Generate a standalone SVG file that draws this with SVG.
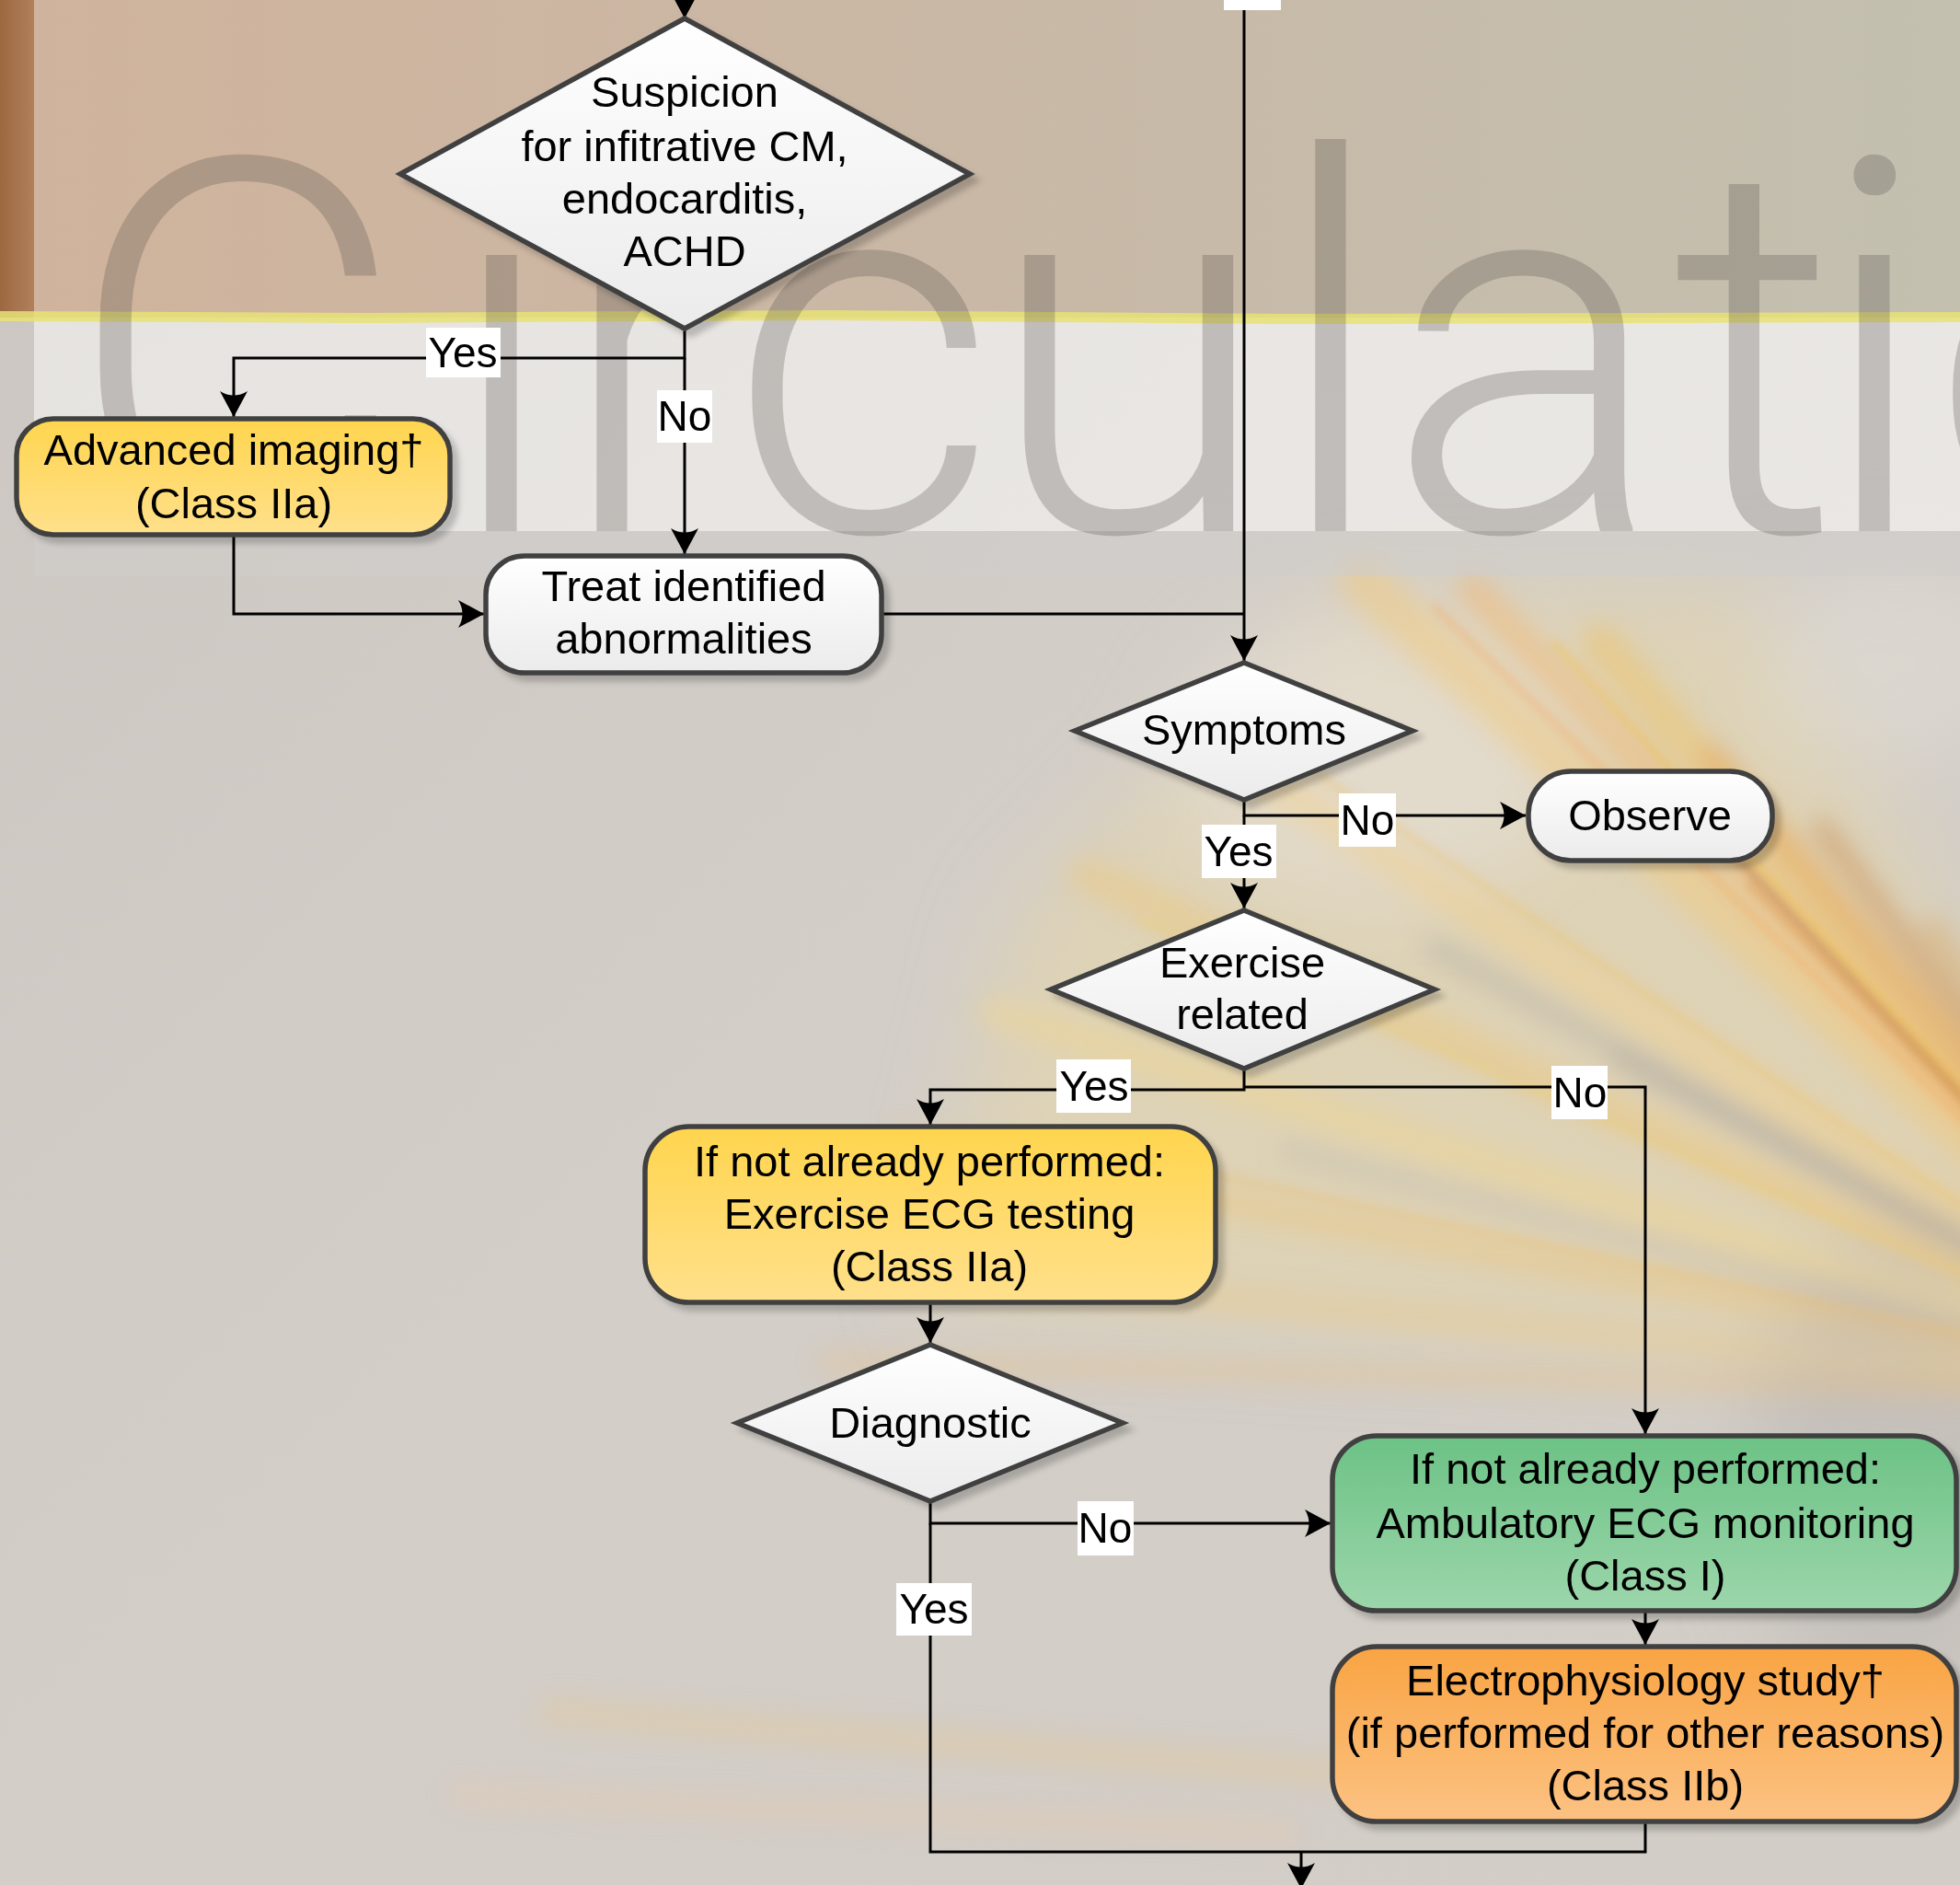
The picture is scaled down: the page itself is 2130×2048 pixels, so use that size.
<svg xmlns="http://www.w3.org/2000/svg" width="2130" height="2048" viewBox="0 0 2130 2048">
<defs>
<style>
.nt{font-family:"Liberation Sans",Arial,sans-serif;font-size:47px;text-anchor:middle;fill:#000}
.lb{font-family:"Liberation Sans",Arial,sans-serif;font-size:46px;text-anchor:middle;fill:#000}
.lbg{fill:#fff}
.node{stroke:#404040;stroke-width:5.5;filter:url(#sh)}
.w{fill:url(#gw)}
.y{fill:url(#gy)}
.g{fill:url(#gg)}
.o{fill:url(#go)}
.c{fill:none;stroke:#000;stroke-width:3}
.ca{fill:none;stroke:#000;stroke-width:3;marker-end:url(#ah)}
</style>
<marker id="ah" markerUnits="userSpaceOnUse" markerWidth="30" markerHeight="30" refX="28" refY="15" orient="auto">
<path d="M0,0 L28,15 L0,30 Q9,15 0,0 z" fill="#000"/>
</marker>
<filter id="sh" x="-10%" y="-10%" width="125%" height="130%">
<feDropShadow dx="7" dy="7" stdDeviation="3" flood-color="#000" flood-opacity="0.2"/>
</filter>
<filter id="blur" x="-20%" y="-20%" width="140%" height="140%">
<feGaussianBlur stdDeviation="13"/>
</filter>
<filter id="blur3" x="-20%" y="-20%" width="140%" height="140%">
<feGaussianBlur stdDeviation="5"/>
</filter>
<filter id="blur2" x="-30%" y="-30%" width="160%" height="160%">
<feGaussianBlur stdDeviation="45"/>
</filter>
<linearGradient id="gw" x1="0" y1="0" x2="0" y2="1"><stop offset="0" stop-color="#ffffff"/><stop offset="1" stop-color="#ebebeb"/></linearGradient>
<linearGradient id="gy" x1="0" y1="0" x2="0" y2="1"><stop offset="0" stop-color="#ffd54d"/><stop offset="1" stop-color="#ffe08c"/></linearGradient>
<linearGradient id="gg" x1="0" y1="0" x2="0" y2="1"><stop offset="0" stop-color="#6cc285"/><stop offset="1" stop-color="#9cd6ab"/></linearGradient>
<linearGradient id="go" x1="0" y1="0" x2="0" y2="1"><stop offset="0" stop-color="#f9a443"/><stop offset="1" stop-color="#fcc283"/></linearGradient>
<linearGradient id="gtop" x1="0" y1="0" x2="1" y2="0"><stop offset="0" stop-color="#d0b39c"/><stop offset="0.5" stop-color="#c9b8a6"/><stop offset="1" stop-color="#c3c0b0"/></linearGradient>
<linearGradient id="gbrown" x1="0" y1="0" x2="1" y2="0"><stop offset="0" stop-color="#9c6840"/><stop offset="1" stop-color="#b0805c"/></linearGradient>
<linearGradient id="gbg" x1="0" y1="0" x2="1" y2="1"><stop offset="0" stop-color="#cbc6c1"/><stop offset="0.5" stop-color="#d3cec8"/><stop offset="1" stop-color="#d2cdc6"/></linearGradient>
</defs>

<g id="background">
<rect x="0" y="0" width="2130" height="2048" fill="url(#gbg)"/>
<g filter="url(#blur2)">
<polygon points="1450,640 1900,640 2300,1300 2200,1500 1000,1420 1100,1000" fill="#e7d7a8" opacity="0.55"/>
<ellipse cx="1500" cy="820" rx="220" ry="150" fill="#e4e0d8" opacity="0.6"/>
<ellipse cx="2060" cy="1600" rx="160" ry="260" fill="#bcb8b4" opacity="0.6"/>
<ellipse cx="2060" cy="720" rx="140" ry="110" fill="#dedad2" opacity="0.7"/>
</g>
<g filter="url(#blur)" stroke-linecap="round" fill="none">
<path d="M2440,1515 L1480,630" stroke="#f3c878" stroke-width="50" opacity="0.45"/>
<path d="M2440,1515 L1600,640" stroke="#f2b870" stroke-width="34" opacity="0.5"/>
<path d="M2440,1515 L1740,700" stroke="#f0c262" stroke-width="44" opacity="0.45"/>
<path d="M2440,1515 L1860,820" stroke="#e6a058" stroke-width="24" opacity="0.5"/>
<path d="M2440,1515 L1980,900" stroke="#c98848" stroke-width="22" opacity="0.5"/>
<path d="M2440,1515 L2100,1010" stroke="#d8a460" stroke-width="30" opacity="0.4"/>
<path d="M2440,1515 L1300,800" stroke="#f4d084" stroke-width="40" opacity="0.4"/>
<path d="M2440,1515 L1180,950" stroke="#f1c670" stroke-width="36" opacity="0.4"/>
<path d="M2440,1515 L1080,1100" stroke="#f6d68a" stroke-width="34" opacity="0.4"/>
<path d="M2440,1515 L980,1240" stroke="#f2c06a" stroke-width="28" opacity="0.35"/>
<path d="M2440,1515 L880,1370" stroke="#eec880" stroke-width="30" opacity="0.35"/>
<path d="M2440,1515 L900,1480" stroke="#f0b870" stroke-width="22" opacity="0.3"/>
<path d="M2440,1515 L1560,1030" stroke="#aaa6a0" stroke-width="26" opacity="0.35"/>
<path d="M2440,1515 L1760,1150" stroke="#a29e98" stroke-width="22" opacity="0.35"/>
<path d="M2440,1515 L1400,1250" stroke="#b0aca8" stroke-width="20" opacity="0.3"/>
<path d="M1500,1930 L600,1860" stroke="#efc784" stroke-width="30" opacity="0.3"/>
<path d="M1400,1990 L500,1950" stroke="#f2c8a0" stroke-width="24" opacity="0.3"/>
</g>
<g filter="url(#blur3)" stroke-linecap="round" fill="none">
<path d="M2440,1515 L1560,660" stroke="#f4a860" stroke-width="8" opacity="0.4"/>
<path d="M2440,1515 L1690,700" stroke="#f2c050" stroke-width="8" opacity="0.45"/>
<path d="M2440,1515 L1820,860" stroke="#b8703a" stroke-width="9" opacity="0.45"/>
<path d="M2440,1515 L1400,820" stroke="#f0c060" stroke-width="7" opacity="0.35"/>
<path d="M2440,1515 L1240,1000" stroke="#f2c868" stroke-width="7" opacity="0.35"/>
<path d="M2440,1515 L1100,1230" stroke="#efb860" stroke-width="7" opacity="0.3"/>
<path d="M2440,1515 L1900,960" stroke="#e09a50" stroke-width="8" opacity="0.45"/>
</g>
<rect x="0" y="0" width="2130" height="345" fill="url(#gtop)"/>
<rect x="0" y="0" width="37" height="345" fill="url(#gbrown)"/>
<rect x="37" y="345" width="2093" height="281" fill="#ffffff" opacity="0.5"/>
<path d="M0,338 L400,340 L900,337 L1400,341 L2130,339 L2130,350 L1400,352 L900,348 L400,351 L0,349 z" fill="#e8e276" opacity="0.85"/>
<text x="72 481 605 791 1071 1382 1506 1817 1973 2097" y="577" font-family="Roboto,'Liberation Sans',Arial,sans-serif" font-weight="300" font-size="568" fill="#4a4440" opacity="0.25">Circulatio</text>
<rect x="37" y="577" width="2093" height="49" fill="#5a5550" opacity="0.17"/>
</g>

<g id="connectors">
<path class="ca" d="M744,0 L744,20"/>
<path class="ca" d="M744,357 L744,389 L254,389 L254,453"/>
<path class="ca" d="M744,389 L744,602"/>
<path class="ca" d="M254,581 L254,667 L526,667"/>
<path class="c" d="M958,667 L1352,667"/>
<path class="ca" d="M1352,11 L1352,718"/>
<path class="ca" d="M1352,869 L1352,886 L1658,886"/>
<path class="ca" d="M1352,886 L1352,987"/>
<path class="ca" d="M1352,1161 L1352,1184 L1011,1184 L1011,1222"/>
<path class="ca" d="M1352,1181 L1788,1181 L1788,1558"/>
<path class="ca" d="M1011,1415 L1011,1459"/>
<path class="ca" d="M1011,1631 L1011,1655 L1446,1655"/>
<path class="c" d="M1011,1655 L1011,2012 L1788,2012 L1788,1979"/>
<path class="ca" d="M1414,2012 L1414,2052"/>
<path class="ca" d="M1788,1750 L1788,1787"/>
<rect class="lbg" x="1330" y="0" width="62" height="11"/>
<rect class="lbg" x="463" y="356" width="81" height="54"/>
<text class="lb" x="503" y="399">Yes</text>
<rect class="lbg" x="714" y="424" width="60" height="57"/>
<text class="lb" x="744" y="468">No</text>
<rect class="lbg" x="1455" y="862" width="62" height="58"/>
<text class="lb" x="1486" y="907">No</text>
<rect class="lbg" x="1306" y="896" width="81" height="58"/>
<text class="lb" x="1346" y="941">Yes</text>
<rect class="lbg" x="1148" y="1151" width="81" height="58"/>
<text class="lb" x="1189" y="1196">Yes</text>
<rect class="lbg" x="1686" y="1158" width="61" height="58"/>
<text class="lb" x="1717" y="1203">No</text>
<rect class="lbg" x="1171" y="1631" width="61" height="59"/>
<text class="lb" x="1201" y="1676">No</text>
<rect class="lbg" x="974" y="1720" width="82" height="57"/>
<text class="lb" x="1015" y="1764">Yes</text>
</g>

<g id="n-suspicion">
<polygon class="node w" points="744,20 1054,189 744,357 435,189"/>
<text class="nt" x="744" y="116">Suspicion</text>
<text class="nt" x="744" y="175">for infitrative CM,</text>
<text class="nt" x="744" y="232">endocarditis,</text>
<text class="nt" x="744" y="289">ACHD</text>
</g>
<g id="n-advanced">
<rect class="node y" x="18" y="455" width="471" height="126" rx="40"/>
<text class="nt" x="254" y="505">Advanced imaging†</text>
<text class="nt" x="254" y="563">(Class IIa)</text>
</g>
<g id="n-treat">
<rect class="node w" x="528" y="604" width="430" height="127" rx="42"/>
<text class="nt" x="743" y="653">Treat identified</text>
<text class="nt" x="743" y="710">abnormalities</text>
</g>
<g id="n-symptoms">
<polygon class="node w" points="1352,720 1535,794 1352,869 1168,794"/>
<text class="nt" x="1352" y="809">Symptoms</text>
</g>
<g id="n-observe">
<rect class="node w" x="1661" y="838" width="265" height="97" rx="46"/>
<text class="nt" x="1793" y="902">Observe</text>
</g>
<g id="n-exercise">
<polygon class="node w" points="1352,989 1559,1075 1352,1161 1142,1075"/>
<text class="nt" x="1350" y="1062">Exercise</text>
<text class="nt" x="1350" y="1118">related</text>
</g>
<g id="n-ecg">
<rect class="node y" x="701" y="1224" width="620" height="191" rx="48"/>
<text class="nt" x="1010" y="1278">If not already performed:</text>
<text class="nt" x="1010" y="1335">Exercise ECG testing</text>
<text class="nt" x="1010" y="1392">(Class IIa)</text>
</g>
<g id="n-diagnostic">
<polygon class="node w" points="1011,1461 1220,1546 1011,1631 801,1546"/>
<text class="nt" x="1011" y="1562">Diagnostic</text>
</g>
<g id="n-ambulatory">
<rect class="node g" x="1448" y="1560" width="678" height="190" rx="48"/>
<text class="nt" x="1788" y="1612">If not already performed:</text>
<text class="nt" x="1788" y="1671">Ambulatory ECG monitoring</text>
<text class="nt" x="1788" y="1728">(Class I)</text>
</g>
<g id="n-ep">
<rect class="node o" x="1448" y="1789" width="678" height="190" rx="48"/>
<text class="nt" x="1788" y="1842">Electrophysiology study†</text>
<text class="nt" x="1788" y="1899">(if performed for other reasons)</text>
<text class="nt" x="1788" y="1956">(Class IIb)</text>
</g>
</svg>
